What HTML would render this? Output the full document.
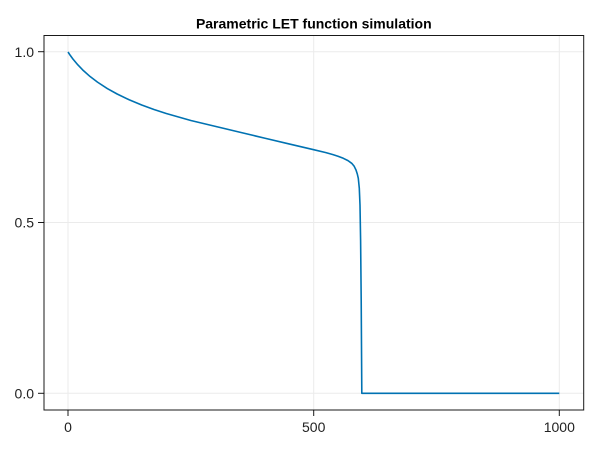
<!DOCTYPE html>
<html><head><meta charset="utf-8"><style>
html,body{margin:0;padding:0;background:#fff;}
svg{display:block;}
</style></head><body>
<svg width="600" height="450" viewBox="0 0 600 450" xmlns="http://www.w3.org/2000/svg">
<rect width="600" height="450" fill="#fff"/>
<!-- grid -->
<g stroke="#ebebeb" stroke-width="1">
<line x1="68" y1="35.5" x2="68" y2="410"/>
<line x1="313.7" y1="35.5" x2="313.7" y2="410"/>
<line x1="559.3" y1="35.5" x2="559.3" y2="410"/>
<line x1="44" y1="51.7" x2="583.7" y2="51.7"/>
<line x1="44" y1="222.5" x2="583.7" y2="222.5"/>
<line x1="44" y1="393.3" x2="583.7" y2="393.3"/>
</g>
<!-- series -->
<path d="M68,52.0 L70.46,55.64 L72.91,58.97 L77.83,64.86 L82.74,69.97 L90.11,76.54 L97.48,82.14 L107.30,88.53 L117.13,93.99 L129.41,99.89 L141.70,104.99 L153.98,109.50 L166.26,113.52 L190.83,120.49 L215.39,126.38 L239.96,132.28 L264.52,138.13 L289.09,143.93 L313.65,149.68 L325.93,152.6 L333,154.6 L338,156.2 L343.3,158.3 L348,160.6 L351.7,163.3 L354.2,166.3 L356,170 L357.3,174 L358.3,178.3 L359.3,188.3 L360,205 L360.6,240 L361.2,300 L361.8,393.3 L559.3,393.3" fill="none" stroke="#0072b2" stroke-width="1.6" stroke-linejoin="round"/>
<!-- spines -->
<rect x="44" y="35.5" width="539.7" height="374.5" fill="none" stroke="#000" stroke-width="1" opacity="0.9"/>
<!-- ticks -->
<g stroke="#000" stroke-width="1" opacity="0.9">
<line x1="38" y1="51.7" x2="44" y2="51.7"/>
<line x1="38" y1="222.5" x2="44" y2="222.5"/>
<line x1="38" y1="393.3" x2="44" y2="393.3"/>
<line x1="68" y1="410" x2="68" y2="416"/>
<line x1="313.7" y1="410" x2="313.7" y2="416"/>
<line x1="559.3" y1="410" x2="559.3" y2="416"/>
</g>
<g font-family="Liberation Sans, Arial, sans-serif" font-size="14" fill="#222">
<text x="34" y="56.8" text-anchor="end">1.0</text>
<text x="34" y="227.6" text-anchor="end">0.5</text>
<text x="34" y="398.4" text-anchor="end">0.0</text>
<text x="68" y="432" text-anchor="middle">0</text>
<text x="313.7" y="432" text-anchor="middle">500</text>
<text x="559.3" y="432" text-anchor="middle">1000</text>
</g>
<text x="313.8" y="28.3" text-anchor="middle" font-family="Liberation Sans, Arial, sans-serif" font-size="14" font-weight="bold" fill="#000">Parametric LET function simulation</text>
</svg>
</body></html>
